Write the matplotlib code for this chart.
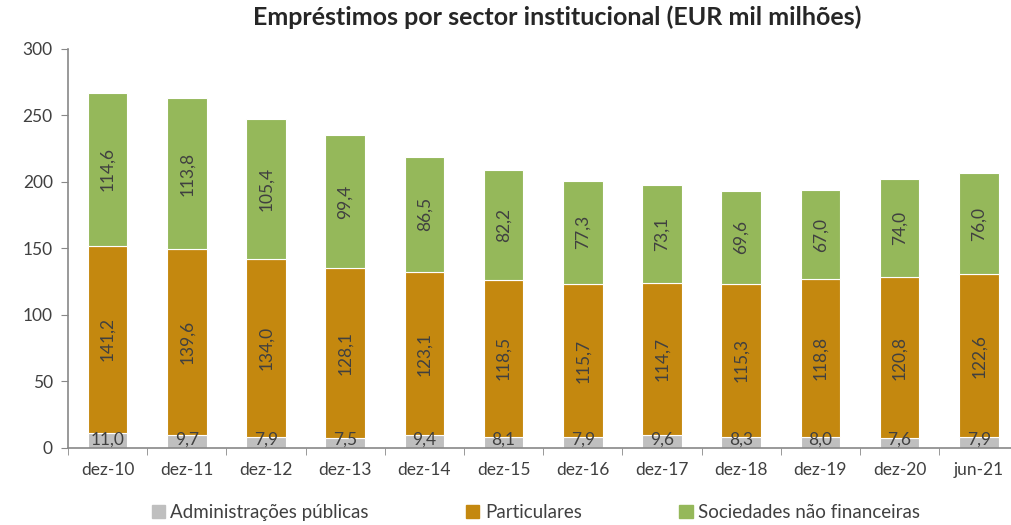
import numpy as np
import matplotlib.pyplot as plt
from matplotlib.patches import Patch

plt.rcParams['font.family'] = ['Lato', 'DejaVu Sans']

cats = ['dez-10', 'dez-11', 'dez-12', 'dez-13', 'dez-14', 'dez-15',
        'dez-16', 'dez-17', 'dez-18', 'dez-19', 'dez-20', 'jun-21']
admin = [11.0, 9.7, 7.9, 7.5, 9.4, 8.1, 7.9, 9.6, 8.3, 8.0, 7.6, 7.9]
partic = [141.2, 139.6, 134.0, 128.1, 123.1, 118.5, 115.7, 114.7, 115.3, 118.8, 120.8, 122.6]
snf = [114.6, 113.8, 105.4, 99.4, 86.5, 82.2, 77.3, 73.1, 69.6, 67.0, 74.0, 76.0]
series_names = ['Administrações públicas', 'Particulares', 'Sociedades não financeiras']

c_gray = '#BFBFBF'
c_orange = '#C4880F'
c_green = '#95B85A'
txt = '#404040'

fig = plt.figure(figsize=(10.11, 5.25), dpi=100)
ax = fig.add_axes([0.0673, 0.1467, 0.94, 0.76])

x = np.arange(len(cats))
w = 0.5
admin = np.array(admin)
partic = np.array(partic)
snf = np.array(snf)

ax.bar(x, admin, w, color=c_gray, edgecolor='white', linewidth=0.8)
ax.bar(x, partic, w, bottom=admin, color=c_orange, edgecolor='white', linewidth=0.8)
ax.bar(x, snf, w, bottom=admin + partic, color=c_green, edgecolor='white', linewidth=0.8)

def fmt(v):
    return f'{v:.1f}'.replace('.', ',')

for i in range(len(cats)):
    ax.text(x[i], 0.5, fmt(admin[i]), ha='center', va='bottom', fontsize=12.5, color=txt)
    ax.text(x[i], admin[i] + partic[i] / 2, fmt(partic[i]), ha='center', va='center',
            rotation=90, fontsize=12.5, color=txt)
    ax.text(x[i], admin[i] + partic[i] + snf[i] / 2, fmt(snf[i]), ha='center', va='center',
            rotation=90, fontsize=12.5, color=txt)

ax.set_xlim(-0.5, 11.41)
ax.set_ylim(0, 300)
ax.set_yticks(range(0, 301, 50))
ax.set_xticks(x)
ax.set_xticklabels(cats)
ax.set_xticks(np.arange(-0.5, 12, 1), minor=True)
ax.tick_params(axis='x', which='major', length=0, pad=10, labelsize=12.5, labelcolor=txt)
ax.tick_params(axis='x', which='minor', length=5, color='#888888', direction='out')
ax.tick_params(axis='y', length=5, color='#888888', labelsize=12.5, labelcolor=txt, pad=6)

for s in ['top', 'right']:
    ax.spines[s].set_visible(False)
for s in ['left', 'bottom']:
    ax.spines[s].set_color('#888888')
    ax.spines[s].set_linewidth(1.2)

fig.suptitle('Empréstimos por sector institucional (EUR mil milhões)', x=0.551, y=0.99,
             fontsize=18, fontweight='bold', color='#262626')

handles = [Patch(color=c_gray), Patch(color=c_orange), Patch(color=c_green)]
fig.legend(handles, series_names, loc='lower center', bbox_to_anchor=(0.53, -0.025),
           ncol=3, frameon=False, fontsize=13.5, handlelength=0.7, handleheight=0.7,
           handletextpad=0.3, columnspacing=5.2, labelcolor=txt)

fig.savefig('out.png', dpi=100)
